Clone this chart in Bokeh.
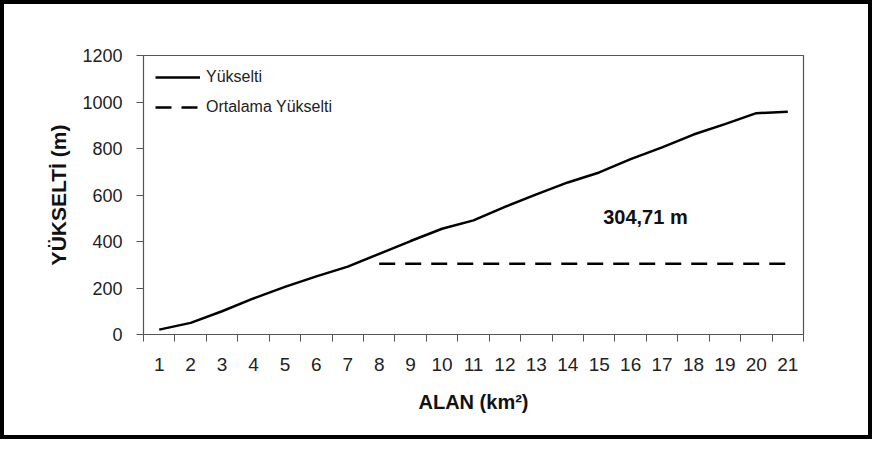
from bokeh.plotting import figure
from bokeh.models import FixedTicker, Legend, LegendItem, Label, Range1d
from bokeh.embed import file_html
from bokeh.resources import INLINE

# ---- data ----
area = list(range(1, 22))
area_labels = [str(a) for a in area]
elevation = [21, 50, 100, 155, 205, 250, 292, 347, 402, 455, 491, 549, 603,
             654, 697, 754, 805, 860, 905, 952, 958]
mean_start = 8
mean_elevation = 304.71
mean_text = "304,71 m"
y_ticks = [0, 200, 400, 600, 800, 1000, 1200]

FONT = "Liberation Sans"
AX = "#555555"

p = figure(width=872, height=439, output_backend="svg", toolbar_location=None,
           x_range=Range1d(0.5, 21.5), y_range=Range1d(0, 1200),
           min_border_left=139, min_border_right=73,
           min_border_top=51, min_border_bottom=109)
p.styles = {"border": "4px solid black"}
p.background_fill_color = "white"
p.border_fill_color = "white"
p.xgrid.visible = False
p.ygrid.visible = False
p.outline_line_color = AX
p.outline_line_width = 1.2

r1 = p.line(area, elevation, line_color="black", line_width=2.5)
r2 = p.line([mean_start, area[-1]], [mean_elevation, mean_elevation],
            line_color="black", line_width=2.5, line_dash="16 10")

# x axis: labels at category centres, ticks at boundaries
xa = p.xaxis[0]
xa.ticker = FixedTicker(ticks=area, minor_ticks=[a - 0.5 for a in area] + [area[-1] + 0.5])
xa.major_label_overrides = {a: lab for a, lab in zip(area, area_labels)}
xa.major_tick_line_color = None
xa.major_tick_out = 7
xa.major_tick_in = 0
xa.minor_tick_line_color = AX
xa.minor_tick_out = 7
xa.minor_tick_in = 0
xa.axis_line_color = AX
xa.major_label_standoff = 16
xa.major_label_text_font_size = "19px"
xa.axis_label = "ALAN (km²)"
xa.axis_label_standoff = 17
xa.axis_label_text_font_size = "20px"

ya = p.yaxis[0]
ya.ticker = FixedTicker(ticks=y_ticks)
ya.major_tick_out = 7
ya.major_tick_in = 0
ya.major_tick_line_color = AX
ya.minor_tick_line_color = None
ya.axis_line_color = AX
ya.major_label_standoff = 14
ya.major_label_text_font_size = "18px"
ya.axis_label = "YÜKSELTİ (m)"
ya.axis_label_standoff = 9
ya.axis_label_text_font_size = "21px"

for ax in (xa, ya):
    ax.major_label_text_font = FONT
    ax.major_label_text_color = "#222222"
    ax.axis_label_text_font = FONT
    ax.axis_label_text_font_style = "bold"
    ax.axis_label_text_color = "#111111"

legend = Legend(items=[LegendItem(label="Yükselti", renderers=[r1]),
                       LegendItem(label="Ortalama Yükselti", renderers=[r2])],
                location="top_left", border_line_color=None,
                background_fill_alpha=0, margin=12, padding=0,
                glyph_width=45, glyph_height=20, label_height=20,
                spacing=10, label_standoff=6,
                label_text_font=FONT, label_text_font_size="16px",
                label_text_color="#222222")
p.add_layout(legend)

p.add_layout(Label(x=16.47, y=505, text=mean_text, text_font=FONT,
                   text_font_size="20px", text_font_style="bold",
                   text_align="center", text_baseline="middle",
                   text_color="#111111"))

open("out.html", "w").write(file_html(p, INLINE))
